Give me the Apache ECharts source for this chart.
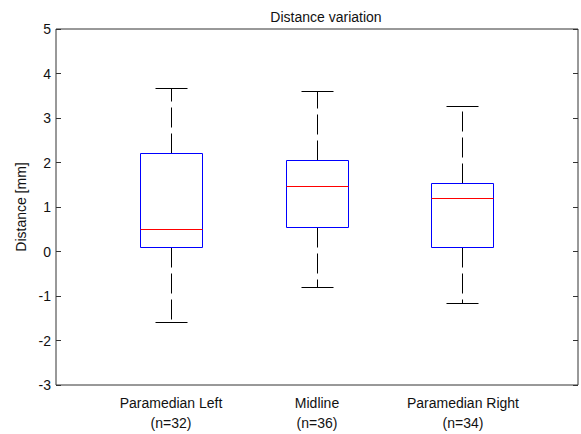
<!DOCTYPE html>
<html>
<head>
<meta charset="utf-8">
<script src="https://cdn.jsdelivr.net/npm/echarts@6/dist/echarts.min.js"></script>
<style>
  html, body { margin: 0; padding: 0; background: #fff; }
  #chart { width: 581px; height: 434px; }
</style>
</head>
<body>
<div id="chart"></div>
<script>
// Box statistics per placement group (distance in mm)
const categories = ['Paramedian Left\n(n=32)', 'Midline\n(n=36)', 'Paramedian Right\n(n=34)'];
const positions = [1, 2, 3];
const whiskerLow = [-1.59, -0.82, -1.17];
const q1 = [0.10, 0.55, 0.10];
const median = [0.49, 1.47, 1.20];
const q3 = [2.20, 2.04, 1.52];
const whiskerHigh = [3.66, 3.60, 3.25];

const yTicks = { min: -3, max: 5, interval: 1 };

const data = positions.map((p, i) => [p, whiskerLow[i], q1[i], median[i], q3[i], whiskerHigh[i]]);

const FONT = '"Liberation Sans", Arial, sans-serif';
const BOX_W = 0.425;   // box width in x units
const CAP_W = 0.22;    // whisker cap width in x units

function crisp(v) { return Math.round(v - 0.5) + 0.5; }

function renderBox(params, api) {
  const x = api.value(0);
  const lo = api.coord([x, api.value(1)]);
  const b1 = api.coord([x, api.value(2)]);
  const md = api.coord([x, api.value(3)]);
  const b3 = api.coord([x, api.value(4)]);
  const hi = api.coord([x, api.value(5)]);
  const halfBox = api.size([BOX_W, 0])[0] / 2;
  const halfCap = api.size([CAP_W, 0])[0] / 2;
  const cx = crisp(lo[0]);
  const yLo = crisp(lo[1]), yQ1 = crisp(b1[1]), yMd = crisp(md[1]), yQ3 = crisp(b3[1]), yHi = crisp(hi[1]);
  const xl = crisp(cx - halfBox), xr = crisp(cx + halfBox);
  const black = { stroke: '#000000', fill: 'none', lineWidth: 1 };
  const dashed = { stroke: '#000000', fill: 'none', lineWidth: 1, lineDash: [20, 6] };
  const blue = { stroke: '#0000ff', fill: 'none', lineWidth: 1 };
  const red = { stroke: '#ff0000', fill: 'none', lineWidth: 1 };
  return {
    type: 'group',
    children: [
      // whiskers, dashed from the box outward
      { type: 'line', silent: true, shape: { x1: cx, y1: yQ3, x2: cx, y2: yHi }, style: dashed },
      { type: 'line', silent: true, shape: { x1: cx, y1: yQ1, x2: cx, y2: yLo }, style: dashed },
      // caps
      { type: 'line', silent: true, shape: { x1: crisp(cx - halfCap), y1: yHi, x2: crisp(cx + halfCap), y2: yHi }, style: black },
      { type: 'line', silent: true, shape: { x1: crisp(cx - halfCap), y1: yLo, x2: crisp(cx + halfCap), y2: yLo }, style: black },
      // interquartile box outline
      { type: 'polyline', silent: true, shape: { points: [[xl, yQ3], [xr, yQ3], [xr, yQ1], [xl, yQ1], [xl, yQ3]] }, style: blue },
      // median
      { type: 'line', silent: true, shape: { x1: xl, y1: yMd, x2: xr, y2: yMd }, style: red }
    ]
  };
}

const chart = echarts.init(document.getElementById('chart'), null, { renderer: 'svg' });
chart.setOption({
  animation: false,
  backgroundColor: '#fff',
  title: {
    text: 'Distance variation',
    left: 321, top: 5, textAlign: 'center',
    textStyle: { fontFamily: FONT, fontSize: 14, fontWeight: 'normal', color: '#111' }
  },
  grid: {
    left: 56, right: 3, top: 29, bottom: 49,
    show: true, borderColor: '#333', borderWidth: 1, backgroundColor: 'transparent'
  },
  xAxis: {
    type: 'value',
    min: 0.212, max: 3.788,
    axisLine: { show: false },
    axisTick: { show: false },
    splitLine: { show: false },
    axisLabel: {
      customValues: positions,
      formatter: (v) => categories[positions.indexOf(Math.round(v))] || '',
      margin: 8,
      fontFamily: FONT, fontSize: 14, color: '#111', lineHeight: 20
    }
  },
  yAxis: [
    {
      type: 'value', position: 'left',
      min: yTicks.min, max: yTicks.max, interval: yTicks.interval,
      name: 'Distance [mm]', nameLocation: 'middle', nameGap: 25, nameRotate: 90,
      nameTextStyle: { fontFamily: FONT, fontSize: 14, color: '#111' },
      axisLine: { show: false },
      axisTick: { show: true, inside: true, length: 5, lineStyle: { color: '#333' } },
      splitLine: { show: false },
      axisLabel: { margin: 5, fontFamily: FONT, fontSize: 14, color: '#111' }
    },
    {
      type: 'value', position: 'right',
      min: yTicks.min, max: yTicks.max, interval: yTicks.interval,
      axisLine: { show: false },
      axisTick: { show: true, inside: true, length: 5, lineStyle: { color: '#333' } },
      splitLine: { show: false },
      axisLabel: { show: false }
    }
  ],
  series: [{
    type: 'custom',
    silent: true,
    emphasis: { disabled: true },
    renderItem: renderBox,
    encode: { x: 0, y: [1, 2, 3, 4, 5] },
    data: data,
    z: 5
  }]
});
</script>
</body>
</html>
